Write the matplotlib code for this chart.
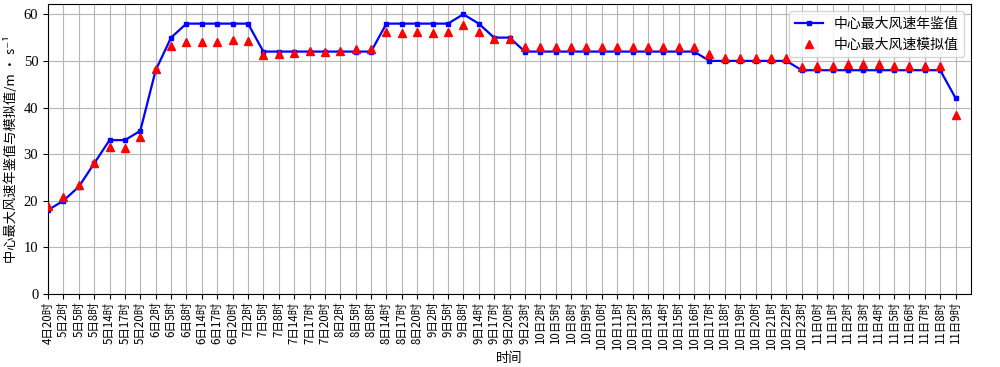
import matplotlib
matplotlib.use("Agg")
import matplotlib.pyplot as plt

plt.rcParams['font.family'] = ['Noto Sans CJK SC', 'DejaVu Sans']
plt.rcParams['axes.unicode_minus'] = False

categories = [
    "4日20时", "5日2时", "5日5时", "5日8时", "5日14时", "5日17时", "5日20时",
    "6日2时", "6日5时", "6日8时", "6日14时", "6日17时", "6日20时",
    "7日2时", "7日5时", "7日8时", "7日14时", "7日17时", "7日20时",
    "8日2时", "8日5时", "8日8时", "8日14时", "8日17时", "8日20时",
    "9日2时", "9日5时", "9日8时", "9日14时", "9日17时", "9日20时", "9日23时",
    "10日2时", "10日5时", "10日8时", "10日9时", "10日10时", "10日11时", "10日12时",
    "10日13时", "10日14时", "10日15时", "10日16时", "10日17时", "10日18时",
    "10日19时", "10日20时", "10日21时", "10日22时", "10日23时",
    "11日0时", "11日1时", "11日2时", "11日3时", "11日4时", "11日5时",
    "11日6时", "11日7时", "11日8时", "11日9时",
]

yearbook = [
    18, 20, 23, 28, 33, 33, 35,
    48, 55, 58, 58, 58, 58,
    58, 52, 52, 52, 52, 52,
    52, 52, 52, 58, 58, 58,
    58, 58, 60, 58, 55, 55, 52,
    52, 52, 52, 52, 52, 52, 52,
    52, 52, 52, 52, 50, 50,
    50, 50, 50, 50, 48,
    48, 48, 48, 48, 48, 48,
    48, 48, 48, 42,
]

simulated = [
    18.8, 20.8, 23.4, 28.1, 31.6, 31.4, 33.7,
    48.2, 53.1, 54.0, 54.1, 54.1, 54.4,
    54.2, 51.2, 51.5, 51.6, 52.1, 52.0,
    52.1, 52.6, 52.6, 56.2, 55.9, 56.3,
    55.9, 56.2, 57.6, 56.2, 54.6, 54.8, 53.0,
    53.0, 53.0, 53.0, 53.0, 53.0, 53.0, 53.0,
    53.0, 53.0, 53.0, 53.0, 51.4, 50.6,
    50.6, 50.6, 50.6, 50.7, 48.7,
    48.8, 48.8, 49.3, 49.3, 49.3, 48.8,
    48.8, 48.8, 48.8, 38.3,
]

x = list(range(len(categories)))

fig = plt.figure(figsize=(10, 3.67), dpi=100)
ax = fig.add_axes([0.048, 0.199, 0.923, 0.79])

ax.plot(x, yearbook, color='blue', linewidth=1.6, marker='s', markersize=3.5,
        label='中心最大风速年鉴值', zorder=3)
ax.plot(x, simulated, linestyle='none', color='red', marker='^', markersize=6,
        label='中心最大风速模拟值', zorder=4)

ax.set_xlim(0, 60)
ax.set_ylim(0, 62.2)
ax.set_xticks(x)
ax.set_xticklabels(categories, rotation=90, fontsize=8.3)
ax.tick_params(axis='x', pad=2)
ax.set_yticks([0, 10, 20, 30, 40, 50, 60])
for lbl in ax.get_yticklabels():
    lbl.set_family(['Liberation Serif', 'DejaVu Serif'])
    lbl.set_fontsize(10.5)

ax.grid(True, color='#b0b0b0', linewidth=0.8, alpha=0.9)
ax.set_axisbelow(True)

ax.set_ylabel('中心最大风速年鉴值与模拟值/m • s⁻¹', fontsize=9.5,
              family=['Noto Sans CJK SC', 'DejaVu Sans'], labelpad=4)
ax.set_xlabel('时间', fontsize=9.5, labelpad=1)

ax.legend(loc='upper right', fontsize=10, framealpha=0.8)

fig.savefig('out.png', dpi=100)
